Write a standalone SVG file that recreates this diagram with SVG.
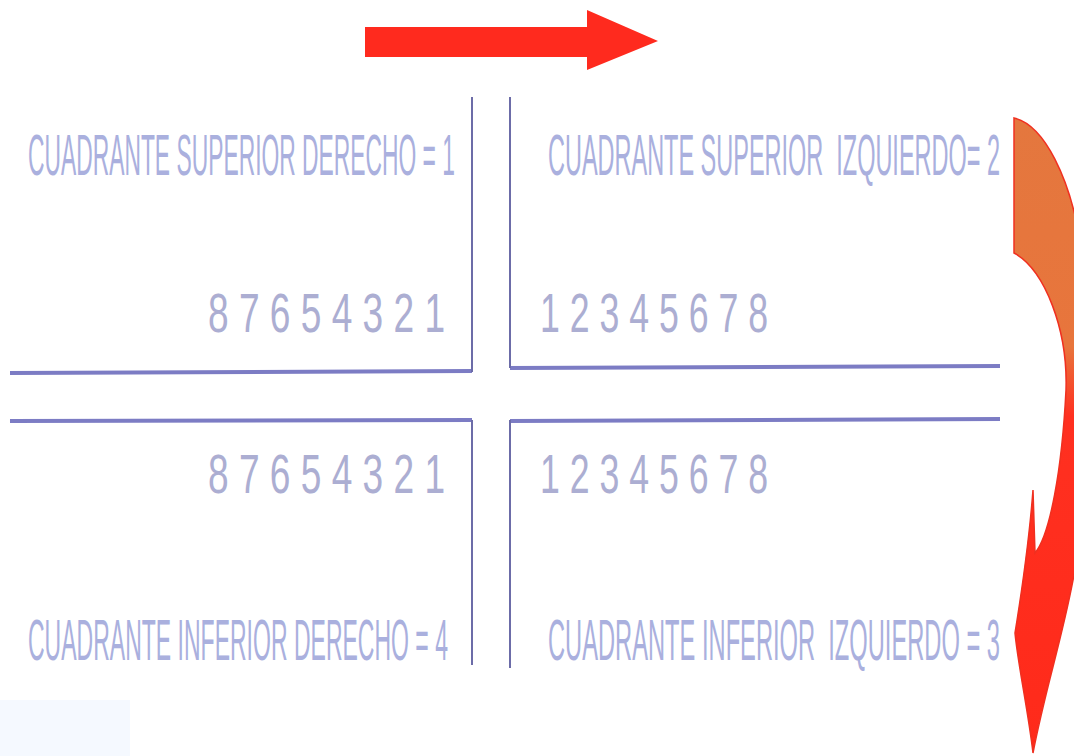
<svg xmlns="http://www.w3.org/2000/svg" width="1074" height="756" viewBox="0 0 1074 756">
  <style>
    .lbl { font-family: "Liberation Sans", "DejaVu Sans", sans-serif; font-size: 57px; fill: #aab0de; }
    .num { font-family: "Liberation Sans", "DejaVu Sans", sans-serif; font-size: 56px; fill: #acaed2; }
    .hl { stroke: #7c7cc4; stroke-width: 4; fill: none; }
    .vl { stroke: #6c6ca8; stroke-width: 2; fill: none; }
  </style>
  <defs>
    <linearGradient id="curveGrad" x1="0" y1="118" x2="0" y2="753" gradientUnits="userSpaceOnUse">
      <stop offset="0" stop-color="#e4773e"/>
      <stop offset="0.36" stop-color="#e8753c"/>
      <stop offset="0.47" stop-color="#ff3020"/>
      <stop offset="1" stop-color="#ff2a1a"/>
    </linearGradient>
  </defs>
  <rect width="1074" height="756" fill="#ffffff"/>
  <rect x="0" y="700" width="130" height="56" fill="#f5f9ff"/>

  <g id="connectors">
    <polygon id="arrow-top" points="365,27 587,27 587,10 658,41 587,70 587,57 365,57" fill="#ff2a1e"/>
    <path id="arrow-curve" d="M1014 118 C1045 125 1070 180 1080 240 L1080 560 L1074 575 C1062 640 1045 690 1033 753 C1028 710 1018 665 1015 633 C1022 590 1030 530 1033 490 L1035 553 C1050 535 1062 470 1066 390 C1068 330 1045 270 1014 253 Z" fill="url(#curveGrad)" stroke="#f03020" stroke-width="1.5"/>
  </g>

  <g id="axes">
    <line class="hl" x1="10" y1="373" x2="472" y2="371"/>
    <line class="hl" x1="510" y1="368" x2="1000" y2="366"/>
    <line class="hl" x1="10" y1="421" x2="472" y2="420"/>
    <line class="hl" x1="510" y1="421" x2="1000" y2="419"/>
    <line class="vl" x1="472" y1="97" x2="472" y2="372"/>
    <line class="vl" x1="472" y1="420" x2="472" y2="665"/>
    <line class="vl" x1="510" y1="97" x2="510" y2="368"/>
    <line class="vl" x1="510" y1="420" x2="510" y2="668"/>
  </g>

  <g id="q1-label">
    <text class="lbl" x="28" y="175" textLength="427" lengthAdjust="spacingAndGlyphs">CUADRANTE SUPERIOR DERECHO = 1</text>
  </g>
  <g id="q2-label">
    <text class="lbl" x="548" y="175" textLength="452" lengthAdjust="spacingAndGlyphs" xml:space="preserve">CUADRANTE SUPERIOR  IZQUIERDO= 2</text>
  </g>
  <g id="q1-numbers">
    <text class="num" x="208" y="332" textLength="237" lengthAdjust="spacingAndGlyphs">8 7 6 5 4 3 2 1</text>
  </g>
  <g id="q2-numbers">
    <text class="num" x="540" y="332" textLength="228" lengthAdjust="spacingAndGlyphs">1 2 3 4 5 6 7 8</text>
  </g>
  <g id="q4-numbers">
    <text class="num" x="208" y="493" textLength="237" lengthAdjust="spacingAndGlyphs">8 7 6 5 4 3 2 1</text>
  </g>
  <g id="q3-numbers">
    <text class="num" x="540" y="493" textLength="228" lengthAdjust="spacingAndGlyphs">1 2 3 4 5 6 7 8</text>
  </g>
  <g id="q4-label">
    <text class="lbl" x="28" y="660" textLength="420" lengthAdjust="spacingAndGlyphs">CUADRANTE INFERIOR DERECHO = 4</text>
  </g>
  <g id="q3-label">
    <text class="lbl" x="548" y="660" textLength="452" lengthAdjust="spacingAndGlyphs" xml:space="preserve">CUADRANTE INFERIOR  IZQUIERDO = 3</text>
  </g>
</svg>
